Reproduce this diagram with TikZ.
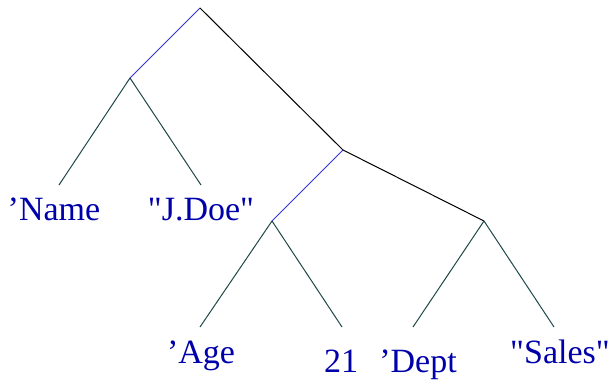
\documentclass[tikz,border=0pt]{standalone}
\usepackage{fontspec}
\setmainfont{Liberation Serif}[Ligatures=TeXOff]
\definecolor{carblue}{RGB}{51,51,221}
\definecolor{leafteal}{RGB}{30,72,72}
\definecolor{atomblue}{RGB}{0,0,170}

\begin{document}
\begin{tikzpicture}[x=1pt, y=-1pt, line width=1pt,
    atom/.style={anchor=base, text=atomblue, inner sep=0pt, font=\fontsize{34}{40}\selectfont}]
    \useasboundingbox (0,0) rectangle (615,382);
    % cons cells
    \coordinate (root) at (200,8);
    \coordinate (pair1) at (130,78);
    \coordinate (rest) at (343,150);
    \coordinate (pair2) at (272,221);
    \coordinate (pair3) at (484,221);
    % ends of the leaf lines
    \coordinate (leaf1) at (59,185);
    \coordinate (leaf2) at (201,185);
    \coordinate (leaf3) at (200,327);
    \coordinate (leaf4) at (342,327);
    \coordinate (leaf5) at (413,327);
    \coordinate (leaf6) at (554,327);
    \draw[carblue] (root) -- (pair1);
    \draw[black] (root) -- (rest);
    \draw[carblue] (rest) -- (pair2);
    \draw[black] (rest) -- (pair3);
    \draw[leafteal] (pair1) -- (leaf1);
    \draw[leafteal] (pair1) -- (leaf2);
    \draw[leafteal] (pair2) -- (leaf3);
    \draw[leafteal] (pair2) -- (leaf4);
    \draw[leafteal] (pair3) -- (leaf5);
    \draw[leafteal] (pair3) -- (leaf6);
    % atoms
    \node[atom] (name) at (54,220) {’Name};
    \node[atom] (jdoe) at (201,220) {"J.Doe"};
    \node[atom] (age) at (201,363) {’Age};
    \node[atom] (num) at (341,372) {21};
    \node[atom] (dept) at (418,372) {’Dept};
    \node[atom] (sales) at (560,363) {"Sales"};
\end{tikzpicture}
\end{document}
